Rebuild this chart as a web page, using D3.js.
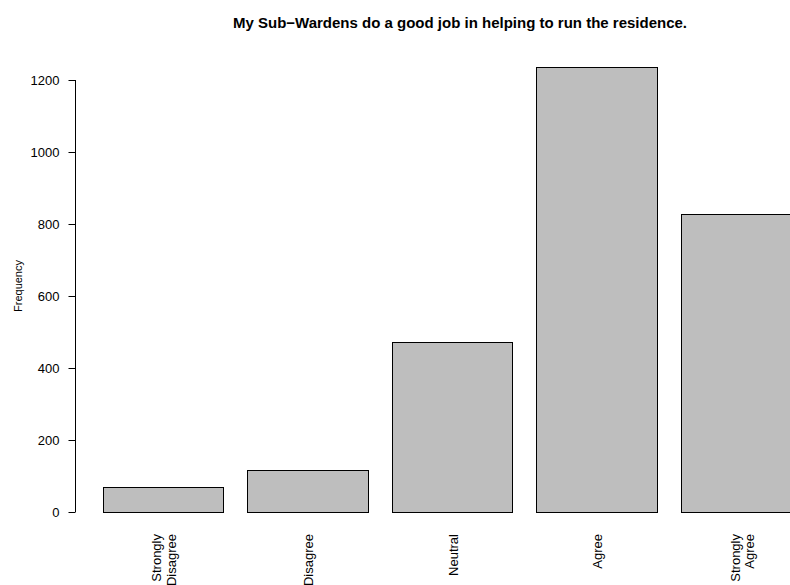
<!DOCTYPE html>
<html>
<head>
<meta charset="utf-8">
<script src="https://cdn.jsdelivr.net/npm/d3@7"></script>
<style>
  html, body { margin: 0; padding: 0; background: #fff; }
  svg { display: block; font-family: "Liberation Sans", Arial, Helvetica, sans-serif; }
</style>
</head>
<body>
<svg id="chart" width="790" height="585"></svg>
<script>
const categories = [["Strongly", "Disagree"], ["Disagree"], ["Neutral"], ["Agree"], ["Strongly", "Agree"]];
const frequencies = [69, 117, 471, 1235, 828];
const yTicks = [0, 200, 400, 600, 800, 1000, 1200];
const title = "My Sub\u2212Wardens do a good job in helping to run the residence.";
const yLabel = "Frequency";

const svg = d3.select("#chart");

// R barplot geometry: width 1, space 0.2
const barW = 1, space = 0.2;
const lefts = frequencies.map((d, i) => space + i * (barW + space));
const xMin = lefts[0], xMax = lefts[lefts.length - 1] + barW;
const ext = (xMax - xMin) * 0.04;
const x = d3.scaleLinear().domain([xMin - ext, xMax + ext]).range([74.7, 829.5]);
const y = d3.scaleLinear().domain([0, 1200]).range([512, 80]);

// bars
svg.append("g").selectAll("rect")
  .data(frequencies)
  .join("rect")
  .attr("x", (d, i) => Math.round(x(lefts[i])) + 0.5)
  .attr("y", d => Math.round(y(d)) + 0.5)
  .attr("width", (d, i) => Math.round(x(lefts[i] + barW)) - Math.round(x(lefts[i])))
  .attr("height", d => Math.round(y(0)) - Math.round(y(d)))
  .attr("fill", "#bebebe")
  .attr("stroke", "#000")
  .attr("stroke-width", 1);

// y axis
const yAxis = d3.axisLeft(y).tickValues(yTicks).tickSize(7).tickPadding(9).tickFormat(d3.format("d"));
const ga = svg.append("g").attr("transform", "translate(75.5,0)").call(yAxis);
ga.attr("font-family", null);
ga.select(".domain").attr("d", `M0,${y(0)}V${y(1200)}`).attr("stroke", "#000");
ga.selectAll(".tick line").attr("stroke", "#000");
ga.selectAll(".tick text").attr("fill", "#000").style("font-size", "13px");

// category labels (rotated)
const lab = svg.append("g");
categories.forEach((lines, i) => {
  const cx = x(lefts[i] + barW / 2) + 1;
  const t = lab.append("text")
    .attr("transform", `translate(${cx},534) rotate(-90)`)
    .attr("text-anchor", "end")
    .style("font-size", "13px")
    .attr("fill", "#000");
  lines.forEach((ln, j) => {
    t.append("tspan")
      .attr("x", 0)
      .attr("y", (j - (lines.length - 1) / 2) * 14.5)
      .attr("dominant-baseline", "central")
      .text(ln);
  });
});

// y label
svg.append("text")
  .attr("transform", "translate(18,286) rotate(-90)")
  .attr("text-anchor", "middle")
  .attr("dominant-baseline", "central")
  .style("font-size", "11px")
  .text(yLabel);

// title
svg.append("text")
  .attr("x", 460)
  .attr("y", 28)
  .attr("text-anchor", "middle")
  .style("font-size", "15px")
  .style("font-weight", "bold")
  .text(title);
</script>
</body>
</html>
